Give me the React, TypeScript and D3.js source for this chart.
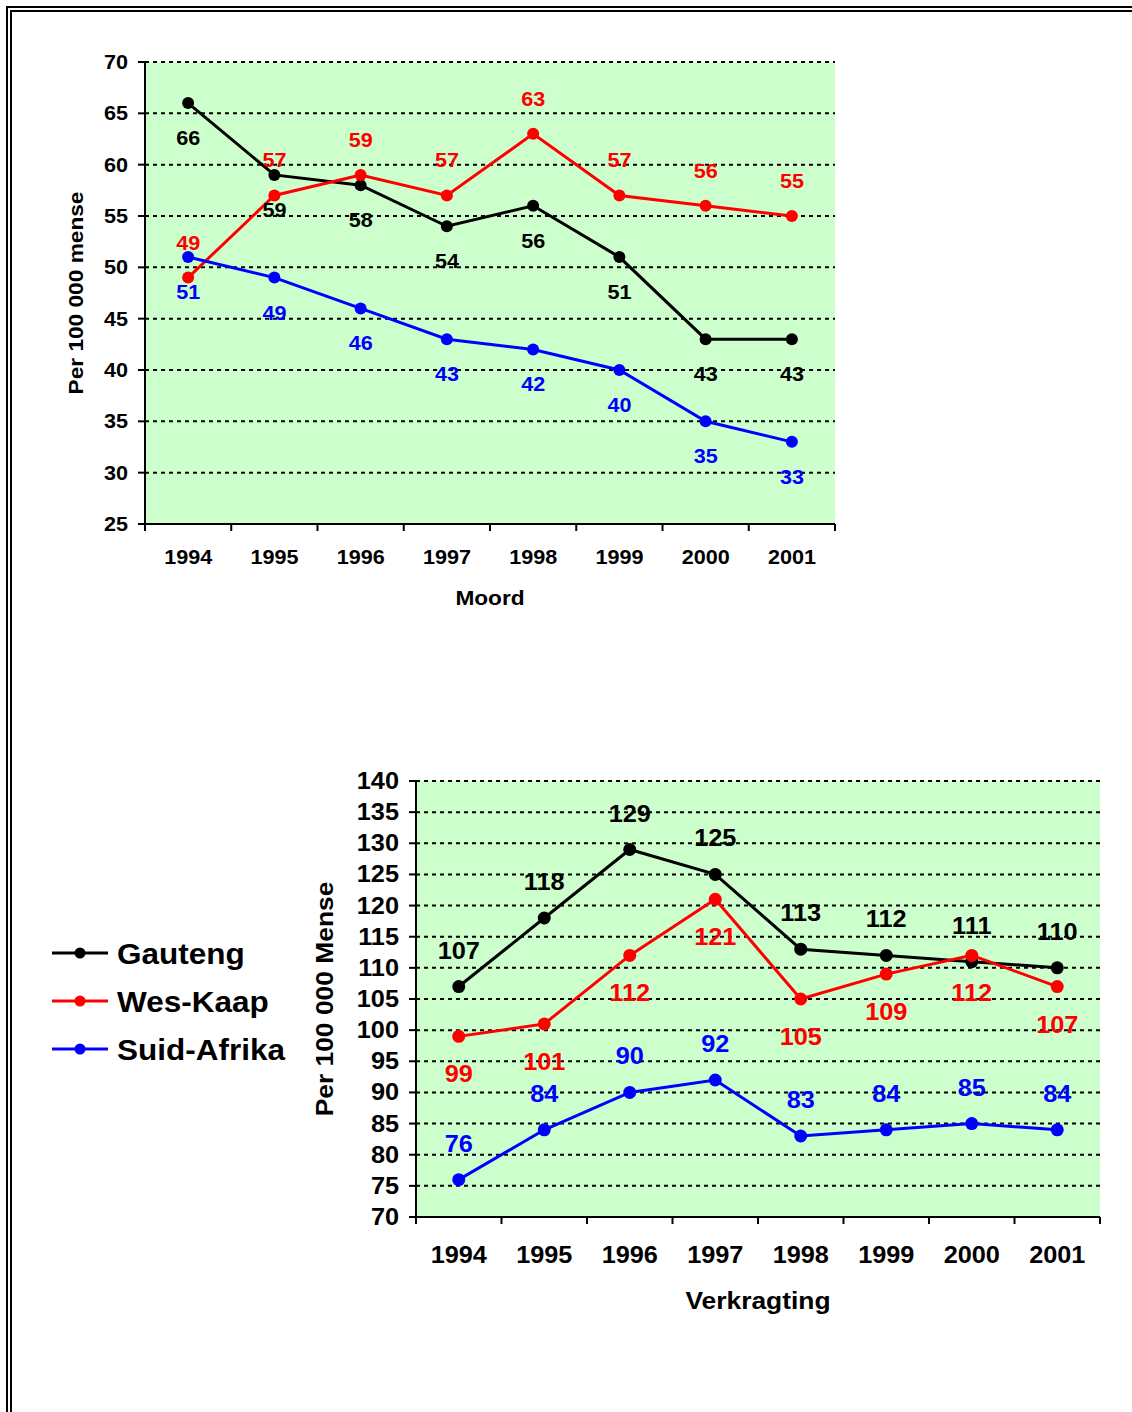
import React from "react";
import * as d3 from "d3";

const years = ["1994", "1995", "1996", "1997", "1998", "1999", "2000", "2001"];
const seriesNames = ["Gauteng", "Wes-Kaap", "Suid-Afrika"];
const seriesColors = ["#000000", "#FF0000", "#0000FF"];

const moordGauteng = [66, 59, 58, 54, 56, 51, 43, 43];
const moordWesKaap = [49, 57, 59, 57, 63, 57, 56, 55];
const moordSuidAfrika = [51, 49, 46, 43, 42, 40, 35, 33];
const moordTicks = [25, 30, 35, 40, 45, 50, 55, 60, 65, 70];

const verkGauteng = [107, 118, 129, 125, 113, 112, 111, 110];
const verkWesKaap = [99, 101, 112, 121, 105, 109, 112, 107];
const verkSuidAfrika = [76, 84, 90, 92, 83, 84, 85, 84];
const verkTicks = [70, 75, 80, 85, 90, 95, 100, 105, 110, 115, 120, 125, 130, 135, 140];

const FONT = "'Liberation Sans', Arial, sans-serif";

function T(props: { x: number; y: number; fs: number; sx: number; anchor?: string; fill?: string; rotate?: boolean; children: any }) {
  const tr = props.rotate
    ? `translate(${props.x},${props.y}) rotate(-90) scale(${props.sx},1)`
    : `translate(${props.x},${props.y}) scale(${props.sx},1)`;
  return (
    <text transform={tr} dy="0.35em" textAnchor={props.anchor || "middle"} fontSize={props.fs} fontWeight="bold" fontFamily={FONT} fill={props.fill || "#000"}>
      {props.children}
    </text>
  );
}

type ChartProps = {
  x0: number; x1: number; y0: number; y1: number;
  domain: [number, number]; ticks: number[];
  series: number[][]; labelOffsets: number[];
  fs: number; sx: number; titleFs: number; yTitle: string; xTitle: string;
  yTitleX: number; yearY: number; xTitleY: number; r: number;
};

function Chart(p: ChartProps) {
  const x = d3.scaleBand<string>().domain(years).range([p.x0, p.x1]);
  const y = d3.scaleLinear().domain(p.domain).range([p.y1, p.y0]);
  const cx = (i: number) => (x(years[i]) as number) + x.bandwidth() / 2;
  const line = d3.line<number>().x((_, i) => cx(i)).y((v) => y(v));
  const bounds = years.map((yr) => x(yr) as number).concat([p.x1]);
  return (
    <g>
      <rect x={p.x0} y={p.y0} width={p.x1 - p.x0} height={p.y1 - p.y0} fill="#CCFFCC" />
      {p.ticks.filter((t) => t !== p.domain[0]).map((t) => (
        <line key={"g" + t} x1={p.x0} x2={p.x1} y1={y(t)} y2={y(t)} stroke="#000" strokeWidth={2} strokeDasharray="4,4" />
      ))}
      <line x1={p.x0} x2={p.x0} y1={p.y0} y2={p.y1} stroke="#000" strokeWidth={2} />
      <line x1={p.x0} x2={p.x1} y1={p.y1} y2={p.y1} stroke="#000" strokeWidth={2} />
      {p.ticks.map((t) => (
        <g key={"t" + t}>
          <line x1={p.x0 - 7} x2={p.x0} y1={y(t)} y2={y(t)} stroke="#000" strokeWidth={2} />
          <T x={p.x0 - 17} y={y(t)} fs={p.fs} sx={p.sx} anchor="end">{t}</T>
        </g>
      ))}
      {bounds.map((bx, i) => (
        <line key={"xb" + i} x1={bx} x2={bx} y1={p.y1} y2={p.y1 + 7} stroke="#000" strokeWidth={2} />
      ))}
      {years.map((yr, i) => (
        <T key={"y" + yr} x={cx(i)} y={p.yearY} fs={p.fs} sx={p.sx}>{yr}</T>
      ))}
      <T x={(p.x0 + p.x1) / 2} y={p.xTitleY} fs={p.titleFs} sx={p.sx}>{p.xTitle}</T>
      <T x={p.yTitleX} y={(p.y0 + p.y1) / 2} fs={p.titleFs} sx={p.sx} rotate>{p.yTitle}</T>
      {p.series.map((s, si) => (
        <g key={"s" + si}>
          <path d={line(s) as string} fill="none" stroke={seriesColors[si]} strokeWidth={3} />
          {s.map((v, i) => (
            <circle key={i} cx={cx(i)} cy={y(v)} r={p.r} fill={seriesColors[si]} />
          ))}
        </g>
      ))}
      {p.series.map((s, si) => (
        <g key={"l" + si}>
          {s.map((v, i) => (
            <T key={i} x={cx(i)} y={y(v) + p.labelOffsets[si]} fs={p.fs} sx={p.sx} fill={seriesColors[si]}>{v}</T>
          ))}
        </g>
      ))}
    </g>
  );
}

export default function App() {
  return (
    <svg width={1132} height={1412} style={{ position: "absolute", left: 0, top: 0 }}>
      <rect x={0} y={0} width={1132} height={1412} fill="#fff" />
      <line x1={6} x2={1132} y1={7} y2={7} stroke="#000" strokeWidth={2} />
      <line x1={10} x2={1132} y1={11} y2={11} stroke="#000" strokeWidth={2} />
      <line x1={7} x2={7} y1={6} y2={1412} stroke="#000" strokeWidth={2} />
      <line x1={11} x2={11} y1={10} y2={1412} stroke="#000" strokeWidth={2} />
      <Chart x0={145} x1={835} y0={62} y1={524} domain={[25, 70]} ticks={moordTicks}
        series={[moordGauteng, moordWesKaap, moordSuidAfrika]} labelOffsets={[35, -35, 35]}
        fs={20} sx={1.08} titleFs={21} yTitle="Per 100 000 mense" xTitle="Moord" yTitleX={76} yearY={557} xTitleY={598} r={6} />
      <Chart x0={416} x1={1100} y0={781} y1={1217} domain={[70, 140]} ticks={verkTicks}
        series={[verkGauteng, verkWesKaap, verkSuidAfrika]} labelOffsets={[-36, 38, -36]}
        fs={23} sx={1.1} titleFs={24} yTitle="Per 100 000 Mense" xTitle="Verkragting" yTitleX={325} yearY={1255} xTitleY={1301} r={6.5} />
      {seriesNames.map((n, i) => (
        <g key={n}>
          <line x1={52} x2={108} y1={953 + i * 48} y2={953 + i * 48} stroke={seriesColors[i]} strokeWidth={3} />
          <circle cx={80} cy={953 + i * 48} r={5.5} fill={seriesColors[i]} />
          <T x={117} y={953 + i * 48} fs={30} sx={1.05} anchor="start">{n}</T>
        </g>
      ))}
    </svg>
  );
}
